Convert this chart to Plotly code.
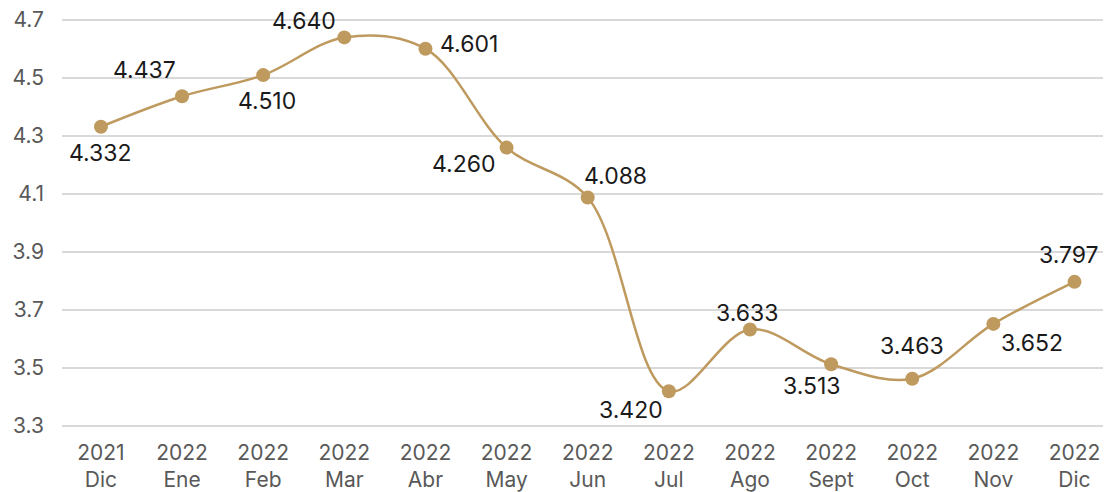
import plotly.graph_objects as go

years = ["2021", "2022", "2022", "2022", "2022", "2022", "2022", "2022", "2022", "2022", "2022", "2022", "2022"]
months = ["Dic", "Ene", "Feb", "Mar", "Abr", "May", "Jun", "Jul", "Ago", "Sept", "Oct", "Nov", "Dic"]
values = [4.332, 4.437, 4.510, 4.640, 4.601, 4.260, 4.088, 3.420, 3.633, 3.513, 3.463, 3.652, 3.797]
y_ticks = [3.3, 3.5, 3.7, 3.9, 4.1, 4.3, 4.5, 4.7]

# label offsets from each marker, in pixels (dx right, dy down)
label_dx = [0, -38, 4, -40, 44, -43, 28, -38, -3, -19, 0, 39, -5]
label_dy = [26, -26, 26, -16, -5, 16, -21, 19, -16, 22, -33, 19, -27]

cats = [f"{y}<br>{m}" for y, m in zip(years, months)]
xs = list(range(len(cats)))

color = "#BF9A5F"
font = "Inter"

fig = go.Figure()
fig.add_trace(go.Scatter(
    x=xs, y=values,
    mode="lines+markers",
    line=dict(color=color, width=2.5, shape="spline", smoothing=1),
    marker=dict(color=color, size=14),
    cliponaxis=False,
    showlegend=False,
    hoverinfo="y",
))

for x, v, dx, dy in zip(xs, values, label_dx, label_dy):
    fig.add_annotation(
        x=x, y=v, text=f"{v:.3f}", showarrow=False,
        xanchor="center", yanchor="middle", xshift=dx, yshift=-dy,
        font=dict(family=font, size=23, color="#1a1a1a"),
    )

fig.update_layout(
    width=1103, height=484,
    margin=dict(l=54, r=0, t=10, b=64, autoexpand=False),
    paper_bgcolor="white", plot_bgcolor="white",
    font=dict(family=font, color="#595959"),
    xaxis=dict(
        tickmode="array", tickvals=xs, ticktext=cats,
        range=[-0.48, 12.45], showgrid=False, zeroline=False, showline=False,
        tickfont=dict(size=21, color="#595959"), ticks="", ticklabelstandoff=10,
        automargin=False, ticklabeloverflow="allow",
    ),
    yaxis=dict(
        range=[3.2931, 4.7069], tickmode="array", tickvals=y_ticks,
        ticktext=[f"{t:.1f}" for t in y_ticks],
        showgrid=True, gridcolor="#d9d9d9", gridwidth=2, zeroline=False, showline=False,
        tickfont=dict(size=21, color="#595959"), ticks="", ticklabelstandoff=17,
        automargin=False, ticklabeloverflow="allow",
    ),
)

fig.write_html("out.html")
